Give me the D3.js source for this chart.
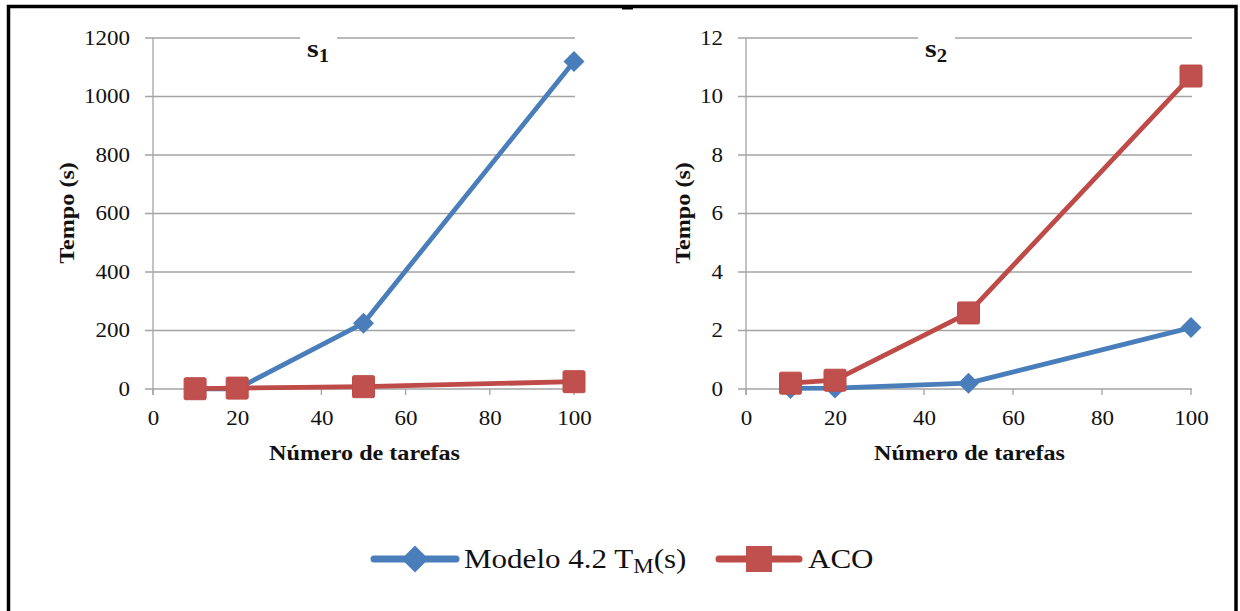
<!DOCTYPE html>
<html><head><meta charset="utf-8">
<script src="https://cdn.jsdelivr.net/npm/d3@7"></script>
<style>
body{margin:0;background:#fff}
svg{display:block}
text{font-family:"Liberation Serif","Times New Roman",serif;fill:#111}
</style>
</head><body>
<svg id="chart" width="1240" height="611"></svg>
<script>
// ---- data ----
const xValues = [10, 20, 50, 100];
const xTicks = [0, 20, 40, 60, 80, 100];
const s1Modelo = [0.3, 0.8, 225, 1120];
const s1ACO = [1, 3, 8, 25];
const s1YTicks = [0, 200, 400, 600, 800, 1000, 1200];
const s2Modelo = [0.02, 0.03, 0.2, 2.1];
const s2ACO = [0.2, 0.3, 2.6, 10.7];
const s2YTicks = [0, 2, 4, 6, 8, 10, 12];
const panelTitles = [["s", "1"], ["s", "2"]];
const xLabel = "Número de tarefas";
const yLabel = "Tempo (s)";
const seriesNames = ["Modelo 4.2 T", "ACO"];
const colors = ["#4a7ebb", "#be4b48"];

const SX = 1.15; // horizontal stretch of the reference's text

const svg = d3.select("#chart");
svg.append("rect").attr("width", 1240).attr("height", 611).attr("fill", "#fff");

// outer frame
svg.append("rect").attr("x", 8.5).attr("y", 6.5).attr("width", 1227.5).attr("height", 620)
  .attr("fill", "none").attr("stroke", "#000").attr("stroke-width", 3.5);
svg.append("rect").attr("x", 622).attr("y", 7).attr("width", 11).attr("height", 2.5).attr("fill", "#000");

const panels = [
  {x0: 153, x1: 574, title: panelTitles[0], yTicks: s1YTicks, series: [s1Modelo, s1ACO], yLabX: 74, titleX: 318},
  {x0: 746, x1: 1191, title: panelTitles[1], yTicks: s2YTicks, series: [s2Modelo, s2ACO], yLabX: 690, titleX: 936}
];
const yTop = 38, yBot = 389;
const gridColor = "#a3a3a3";

function diamondPath(r) { return `M0,${-r}L${r},0L0,${r}L${-r},0Z`; }
function stretchedText(parent, x, y, extra) {
  return parent.append("g").attr("transform", `translate(${x},${y})${extra || ""} scale(${SX},1)`).append("text");
}

panels.forEach(p => {
  const x = d3.scaleLinear().domain([0, 100]).range([p.x0, p.x1]);
  const y = d3.scaleLinear().domain([0, d3.max(p.yTicks)]).range([yBot, yTop]);
  const g = svg.append("g");

  // gridlines + y tick marks
  g.selectAll(".grid").data(p.yTicks).join("line")
    .attr("x1", p.x0 - 8).attr("x2", p.x1 + 1)
    .attr("y1", d => y(d)).attr("y2", d => y(d))
    .attr("stroke", gridColor).attr("stroke-width", 1.3);
  // y axis line
  g.append("line").attr("x1", p.x0).attr("x2", p.x0).attr("y1", yTop).attr("y2", yBot + 6)
    .attr("stroke", gridColor).attr("stroke-width", 1.3);
  // x ticks
  g.selectAll(".xt").data(xTicks).join("line")
    .attr("x1", d => x(d)).attr("x2", d => x(d)).attr("y1", yBot).attr("y2", yBot + 6)
    .attr("stroke", gridColor).attr("stroke-width", 1.3);

  // tick labels via d3 axes (no lines)
  const ya = g.append("g").attr("transform", `translate(${p.x0 - 8},0)`)
    .call(d3.axisLeft(y).tickValues(p.yTicks).tickSize(0).tickPadding(13).tickFormat(d3.format("d")));
  ya.select(".domain").remove();
  ya.selectAll("text").attr("font-size", 20).attr("font-family", "Liberation Serif").attr("fill", "#111")
    .attr("transform", `scale(${SX},1)`);
  const xa = g.append("g").attr("transform", `translate(0,${yBot})`)
    .call(d3.axisBottom(x).tickValues(xTicks).tickSize(0).tickPadding(22).tickFormat(d3.format("d")));
  xa.select(".domain").remove();
  xa.selectAll("text").attr("font-size", 20).attr("font-family", "Liberation Serif").attr("fill", "#111")
    .attr("transform", `scale(${SX},1)`);

  // axis titles
  stretchedText(g, (p.x0 + p.x1) / 2 + 1, 460).attr("text-anchor", "middle")
    .attr("font-size", 21).attr("font-weight", "bold").text(xLabel);
  stretchedText(g, p.yLabX, 213, " rotate(-90)").attr("text-anchor", "middle")
    .attr("font-size", 21).attr("font-weight", "bold").text(yLabel);

  // title with white background
  g.append("rect").attr("x", p.titleX - 18).attr("y", 30).attr("width", 37).attr("height", 36).attr("fill", "#fff");
  const t = stretchedText(g, p.titleX, 57).attr("text-anchor", "middle")
    .attr("font-weight", "bold").attr("font-size", 26);
  t.append("tspan").text(p.title[0]);
  t.append("tspan").attr("font-size", 18).attr("dy", 5).text(p.title[1]);

  // series
  p.series.forEach((vals, i) => {
    const pts = xValues.map((xv, j) => [x(xv), y(vals[j])]);
    g.append("path").attr("d", d3.line()(pts)).attr("fill", "none")
      .attr("stroke", colors[i]).attr("stroke-width", 4.8).attr("stroke-linejoin", "round");
    if (i === 0) {
      g.selectAll(null).data(pts).join("path").attr("d", diamondPath(10.5))
        .attr("transform", d => `translate(${d[0]},${d[1]})`).attr("fill", colors[i]);
    } else {
      g.selectAll(null).data(pts).join("rect")
        .attr("x", d => d[0] - 11).attr("y", d => d[1] - 11).attr("width", 22).attr("height", 22)
        .attr("rx", 1.5).attr("fill", "#c0504d").attr("stroke", colors[i]).attr("stroke-width", 1);
    }
  });
});

// legend
const lg = svg.append("g");
const legendItems = [
  {x1: 374, x2: 456, tx: 464},
  {x1: 719, x2: 799, tx: 808}
];
const ly = 559;
legendItems.forEach((it, i) => {
  lg.append("line").attr("x1", it.x1).attr("x2", it.x2).attr("y1", ly).attr("y2", ly)
    .attr("stroke", colors[i]).attr("stroke-width", 7).attr("stroke-linecap", "round");
  const cx = (it.x1 + it.x2) / 2;
  if (i === 0) {
    lg.append("path").attr("d", diamondPath(13.5)).attr("transform", `translate(${cx},${ly})`).attr("fill", colors[0]);
  } else {
    lg.append("rect").attr("x", cx - 13).attr("y", ly - 13).attr("width", 26).attr("height", 26).attr("fill", "#c0504d");
  }
  const t = stretchedText(lg, it.tx, ly + 9).attr("font-size", 27).attr("fill", "#000");
  t.append("tspan").text(seriesNames[i]);
  if (i === 0) {
    t.append("tspan").attr("font-size", 20).attr("dy", 5).text("M");
    t.append("tspan").attr("dy", -5).text("(s)");
  }
});
</script>
</body></html>
